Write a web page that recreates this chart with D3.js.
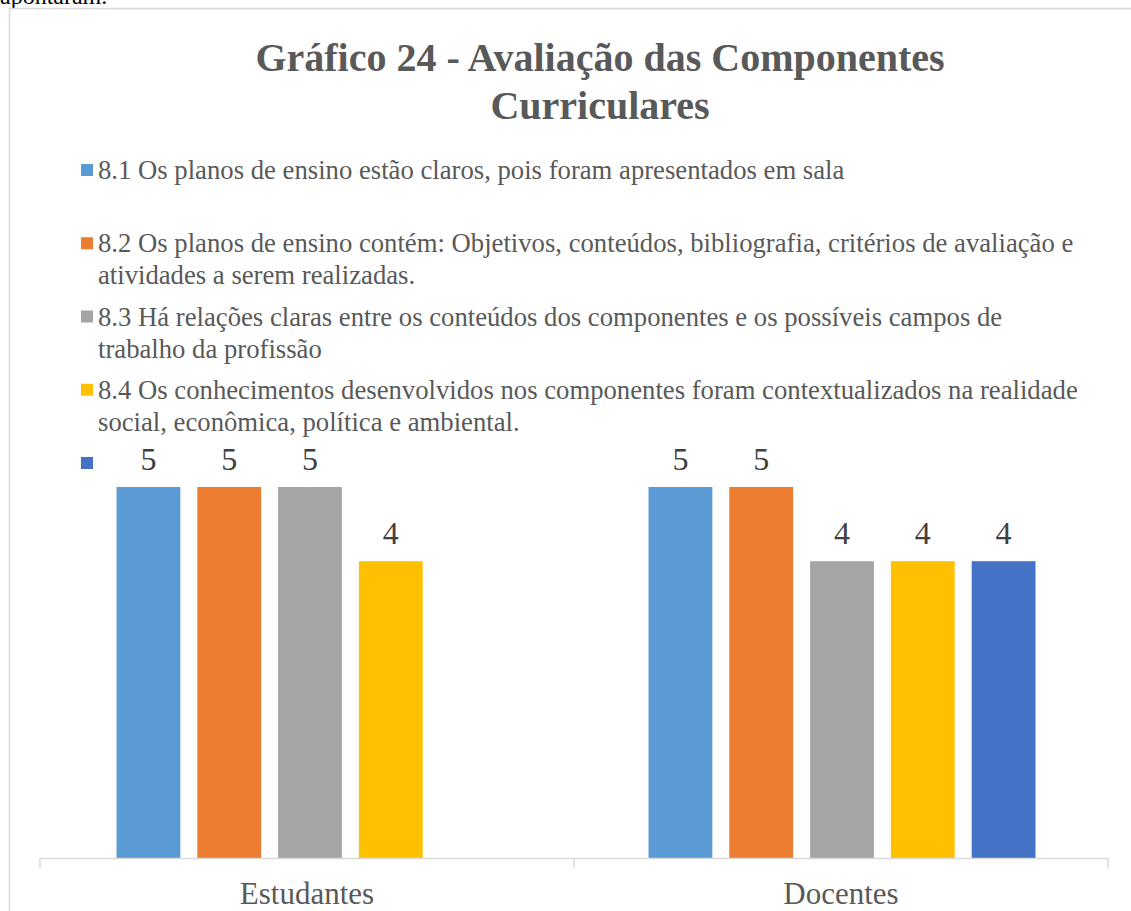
<!DOCTYPE html>
<html>
<head>
<meta charset="utf-8">
<script src="https://cdn.jsdelivr.net/npm/d3@7"></script>
<style>
  html, body { margin: 0; padding: 0; background: #fff; overflow: hidden; }
  svg { display: block; }
  .legend-text, .cat-label { fill: #595959; font-family: "Liberation Serif", "Times New Roman", serif; }
  .bar-label { fill: #404040; font-family: "Liberation Serif", "Times New Roman", serif; }
</style>
</head>
<body>
<svg id="chart" width="1131" height="911"></svg>
<script>
const categories = ["Estudantes", "Docentes"];

const seriesNames = [
  ["8.1 Os planos de ensino estão claros, pois foram apresentados em sala"],
  ["8.2 Os planos de ensino contém: Objetivos, conteúdos, bibliografia, critérios de avaliação e", "atividades a serem realizadas."],
  ["8.3 Há relações claras entre os conteúdos dos componentes e os possíveis campos de", "trabalho da profissão"],
  ["8.4 Os conhecimentos desenvolvidos nos componentes foram contextualizados na realidade", "social, econômica, política e ambiental."],
  [""]
];

const seriesColors = ["#5B9BD5", "#ED7D31", "#A5A5A5", "#FFC000", "#4472C4"];

// values per series: [Estudantes, Docentes]; null = no bar
const seriesValues = [
  [5, 5],
  [5, 5],
  [5, 4],
  [4, 4],
  [null, 4]
];

const svg = d3.select("#chart");
const W = 1131, H = 911;

// text of the page above the chart, mostly cut off
svg.append("text")
  .attr("x", 0).attr("y", 4)
  .attr("font-family", "Liberation Serif, serif")
  .attr("font-size", 24)
  .attr("fill", "#000")
  .text("apontaram.");

// chart frame
svg.append("rect")
  .attr("x", 9.5).attr("y", 8.5)
  .attr("width", W).attr("height", H)
  .attr("fill", "#fff")
  .attr("stroke", "#D9D9D9")
  .attr("stroke-width", 1.5);

// title
const title = svg.append("text")
  .attr("text-anchor", "middle")
  .attr("font-family", "Liberation Serif, serif")
  .attr("font-weight", "bold")
  .attr("font-size", 40)
  .attr("fill", "#595959");
title.append("tspan").attr("x", 600).attr("y", 71).text("Gráfico 24 - Avaliação das Componentes");
title.append("tspan").attr("x", 600).attr("y", 119).text("Curriculares");

// legend
const legendY = d3.scaleLinear().domain([0, 4]).range([170, 463]);
const legend = svg.append("g")
  .selectAll("g.legend-item")
  .data(seriesNames)
  .join("g")
  .attr("class", "legend-item")
  .attr("transform", (d, i) => `translate(81, ${legendY(i)})`);

legend.append("rect")
  .attr("x", 0).attr("y", -6)
  .attr("width", 12).attr("height", 12)
  .attr("fill", (d, i) => seriesColors[i]);

legend.append("text")
  .attr("class", "legend-text")
  .attr("font-size", 26.7)
  .selectAll("tspan")
  .data((d) => d)
  .join("tspan")
  .attr("x", 17)
  .attr("y", (d, j) => 9 + j * 32)
  .text((d) => d);

// plot
const x0 = d3.scaleBand().domain(categories).range([40, 1108]).padding(0);
const x1 = d3.scaleBand()
  .domain(d3.range(seriesNames.length))
  .range([75, x0.bandwidth() - 72])
  .paddingInner(0.21);
const y = d3.scaleLinear().domain([0, 5]).range([858, 487]);

const bars = [];
seriesValues.forEach((vals, s) => {
  vals.forEach((v, c) => {
    if (v !== null) bars.push({ series: s, category: categories[c], value: v });
  });
});

svg.append("g")
  .selectAll("rect.bar")
  .data(bars)
  .join("rect")
  .attr("class", "bar")
  .attr("x", (d) => x0(d.category) + x1(d.series) + (d.category === "Estudantes" ? 1.5 : -0.5))
  .attr("y", (d) => y(d.value))
  .attr("width", x1.bandwidth())
  .attr("height", (d) => y(0) - y(d.value))
  .attr("fill", (d) => seriesColors[d.series]);

svg.append("g")
  .selectAll("text.bar-label")
  .data(bars)
  .join("text")
  .attr("class", "bar-label")
  .attr("text-anchor", "middle")
  .attr("font-size", 32)
  .attr("x", (d) => x0(d.category) + x1(d.series) + x1.bandwidth() / 2 + (d.category === "Estudantes" ? 1.5 : -0.5))
  .attr("y", (d) => y(d.value) - 17)
  .text((d) => d.value);

// category axis
const axis = svg.append("g")
  .attr("transform", `translate(0, ${y(0)})`)
  .call(d3.axisBottom(x0).tickValues([]).tickSizeOuter(0));
axis.select(".domain").attr("stroke", "#D9D9D9").attr("stroke-width", 1.5);

const boundaries = [40, ...categories.map((c) => x0(c) + x0.bandwidth())];
axis.selectAll("line.cat-tick")
  .data(boundaries)
  .join("line")
  .attr("class", "cat-tick")
  .attr("x1", (d) => d).attr("x2", (d) => d)
  .attr("y1", 0).attr("y2", 10)
  .attr("stroke", "#D9D9D9")
  .attr("stroke-width", 1.5);

axis.selectAll("text.cat-label")
  .data(categories)
  .join("text")
  .attr("class", "cat-label")
  .attr("text-anchor", "middle")
  .attr("font-size", 31)
  .attr("x", (d) => x0(d) + x0.bandwidth() / 2)
  .attr("y", 46)
  .text((d) => d);
</script>
</body>
</html>
